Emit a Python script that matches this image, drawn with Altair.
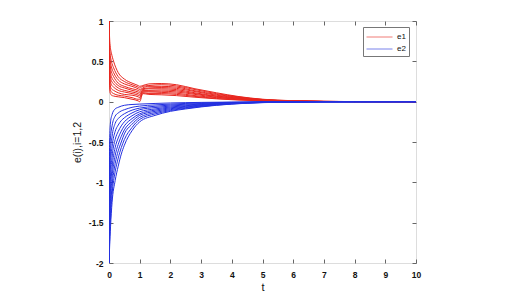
import altair as alt
import pandas as pd

# ---- data ----
t_e1 = [0, 0.03, 0.08, 0.15, 0.3, 0.5, 0.75, 0.95, 1.0, 1.1, 1.3, 1.7, 2.2, 2.8, 3.5, 4.2, 5, 6, 7, 8, 10]
e1_c0 = [1, 0.72, 0.60, 0.50, 0.36, 0.28, 0.23, 0.20, 0.19, 0.20, 0.22, 0.225, 0.21, 0.16, 0.11, 0.065, 0.03, 0.012, 0.004, 0.001, 0]
e1_c1 = [1, 0.62, 0.50, 0.42, 0.31, 0.25, 0.21, 0.18, 0.17, 0.19, 0.20, 0.21, 0.195, 0.15, 0.10, 0.06, 0.028, 0.011, 0.004, 0.001, 0]
e1_c2 = [1, 0.54, 0.43, 0.36, 0.27, 0.22, 0.19, 0.16, 0.15, 0.17, 0.19, 0.19, 0.18, 0.135, 0.09, 0.055, 0.025, 0.01, 0.003, 0.001, 0]
e1_c3 = [1, 0.47, 0.37, 0.31, 0.23, 0.19, 0.16, 0.14, 0.13, 0.16, 0.17, 0.175, 0.165, 0.125, 0.08, 0.05, 0.022, 0.009, 0.003, 0.001, 0]
e1_c4 = [1, 0.40, 0.31, 0.26, 0.20, 0.17, 0.14, 0.12, 0.11, 0.15, 0.16, 0.16, 0.15, 0.11, 0.07, 0.045, 0.02, 0.008, 0.003, 0.001, 0]
e1_c5 = [1, 0.34, 0.26, 0.22, 0.17, 0.14, 0.12, 0.10, 0.09, 0.14, 0.14, 0.145, 0.135, 0.10, 0.065, 0.04, 0.018, 0.007, 0.002, 0.001, 0]
e1_c6 = [1, 0.28, 0.21, 0.18, 0.14, 0.12, 0.10, 0.08, 0.07, 0.13, 0.13, 0.13, 0.12, 0.09, 0.055, 0.035, 0.016, 0.006, 0.002, 0.0005, 0]
e1_c7 = [1, 0.22, 0.16, 0.14, 0.11, 0.09, 0.08, 0.06, 0.05, 0.12, 0.12, 0.115, 0.105, 0.075, 0.05, 0.03, 0.014, 0.005, 0.002, 0.0005, 0]
e1_c8 = [1, 0.17, 0.12, 0.10, 0.08, 0.07, 0.05, 0.03, 0.03, 0.11, 0.10, 0.10, 0.09, 0.065, 0.04, 0.025, 0.012, 0.004, 0.001, 0, 0]
e1_c9 = [1, 0.12, 0.08, 0.07, 0.06, 0.05, 0.03, 0.01, 0.00, 0.10, 0.09, 0.085, 0.075, 0.055, 0.035, 0.02, 0.01, 0.003, 0.001, 0, 0]

t_e2 = [0, 0.02, 0.05, 0.1, 0.2, 0.3, 0.4, 0.5, 0.75, 1.0, 1.5, 2.0, 2.5, 3, 4, 5, 6, 7, 8, 10]
e2_c0 = [-2, -0.50, -0.25, -0.16, -0.09, -0.07, -0.055, -0.045, -0.035, -0.03, -0.022, -0.016, -0.012, -0.009, -0.005, -0.002, -0.001, 0, 0, 0]
e2_c1 = [-2, -0.75, -0.45, -0.30, -0.18, -0.14, -0.115, -0.10, -0.07, -0.055, -0.04, -0.03, -0.022, -0.016, -0.008, -0.003, -0.001, 0, 0, 0]
e2_c2 = [-2, -0.95, -0.62, -0.43, -0.27, -0.21, -0.175, -0.15, -0.105, -0.08, -0.057, -0.042, -0.032, -0.023, -0.011, -0.004, -0.002, -0.001, 0, 0]
e2_c3 = [-2, -1.12, -0.78, -0.56, -0.37, -0.29, -0.235, -0.20, -0.14, -0.10, -0.073, -0.054, -0.041, -0.03, -0.014, -0.005, -0.002, -0.001, 0, 0]
e2_c4 = [-2, -1.27, -0.93, -0.69, -0.47, -0.37, -0.30, -0.25, -0.175, -0.125, -0.09, -0.066, -0.05, -0.036, -0.017, -0.006, -0.003, -0.001, 0, 0]
e2_c5 = [-2, -1.40, -1.08, -0.82, -0.57, -0.45, -0.365, -0.30, -0.21, -0.15, -0.105, -0.077, -0.058, -0.042, -0.02, -0.007, -0.003, -0.001, 0, 0]
e2_c6 = [-2, -1.52, -1.20, -0.94, -0.67, -0.53, -0.43, -0.35, -0.245, -0.17, -0.12, -0.088, -0.066, -0.048, -0.023, -0.008, -0.003, -0.001, 0, 0]
e2_c7 = [-2, -1.62, -1.32, -1.05, -0.77, -0.61, -0.50, -0.40, -0.28, -0.195, -0.136, -0.099, -0.074, -0.054, -0.026, -0.009, -0.004, -0.001, -0.001, 0]
e2_c8 = [-2, -1.72, -1.44, -1.15, -0.87, -0.70, -0.57, -0.47, -0.32, -0.22, -0.152, -0.11, -0.082, -0.06, -0.028, -0.011, -0.004, -0.002, -0.001, 0]
e2_c9 = [-2, -1.80, -1.55, -1.25, -0.98, -0.80, -0.65, -0.54, -0.36, -0.25, -0.17, -0.12, -0.09, -0.065, -0.03, -0.012, -0.005, -0.002, -0.001, 0]

series_names = ["e1", "e2"]
series_colors = ["#e8261e", "#2330e0"]
x_ticks = [0, 1, 2, 3, 4, 5, 6, 7, 8, 9, 10]
y_ticks = [-2, -1.5, -1, -0.5, 0, 0.5, 1]

e1_curves = [e1_c0, e1_c1, e1_c2, e1_c3, e1_c4, e1_c5, e1_c6, e1_c7, e1_c8, e1_c9]
e2_curves = [e2_c0, e2_c1, e2_c2, e2_c3, e2_c4, e2_c5, e2_c6, e2_c7, e2_c8, e2_c9]

rows = []
for i, c in enumerate(e1_curves):
    for t, v in zip(t_e1, c):
        rows.append({"t": t, "v": v, "series": "e1", "curve": f"e1_{i}"})
for i, c in enumerate(e2_curves):
    for t, v in zip(t_e2, c):
        rows.append({"t": t, "v": v, "series": "e2", "curve": f"e2_{i}"})
df = pd.DataFrame(rows)

FONT = "Liberation Sans"
xs = alt.Scale(domain=[0, 10], nice=False)
ys = alt.Scale(domain=[-2, 1], nice=False)

common_axis = dict(domain=False, grid=False, ticks=True, tickSize=4, offset=-4,
                   tickColor="#666666", labelFont=FONT, labelFontSize=8.5,
                   labelFontWeight="bold", labelColor="#111111", labelFlush=False,
                   titleFont=FONT, titleColor="#111111", titleFontWeight="normal")

lines = alt.Chart(df).mark_line(strokeWidth=1, interpolate="monotone", clip=True).encode(
    x=alt.X("t:Q", scale=xs, axis=alt.Axis(values=x_ticks, labelPadding=7, title="t",
                                           titleFontSize=11, titlePadding=3, **common_axis)),
    y=alt.Y("v:Q", scale=ys, axis=alt.Axis(values=y_ticks, labelPadding=6, labelExpr="datum.value",
                                           title="e(i),i=1,2", titleFontSize=10.5,
                                           titlePadding=6, **common_axis)),
    color=alt.Color("series:N", scale=alt.Scale(domain=series_names, range=series_colors),
                    legend=alt.Legend(title=None, orient="none", legendX=254, legendY=6,
                                      direction="vertical", symbolType="M-1,0H3",
                                      symbolSize=169, symbolStrokeWidth=1,
                                      labelFont=FONT, labelFontSize=8, labelColor="#111111",
                                      labelOffset=17, padding=3, rowPadding=1,
                                      strokeColor="#777777", fillColor="white",
                                      cornerRadius=0, symbolOpacity=0.6)),
    detail="curve:N",
)

frame_axis = dict(domain=False, grid=False, ticks=True, tickSize=4, offset=-4,
                  tickColor="#666666", labels=False, title=None)
ghost = alt.Chart(df).mark_line(opacity=0).encode(
    x=alt.X("t:Q", scale=xs, axis=alt.Axis(orient="top", values=x_ticks, **frame_axis)),
    y=alt.Y("v:Q", scale=ys, axis=alt.Axis(orient="right", values=y_ticks, **frame_axis)),
    detail="curve:N",
)

chart = alt.layer(ghost, lines).resolve_axis(x="independent", y="independent").properties(
    width=307, height=242,
    autosize=alt.AutoSizeParams(type="none"),
    padding={"left": 101, "top": 13, "right": 108, "bottom": 40},
).configure_view(stroke="#808080", strokeWidth=1).configure(background="white")

chart.save("out.html", embed_options={"renderer": "svg", "actions": False})
